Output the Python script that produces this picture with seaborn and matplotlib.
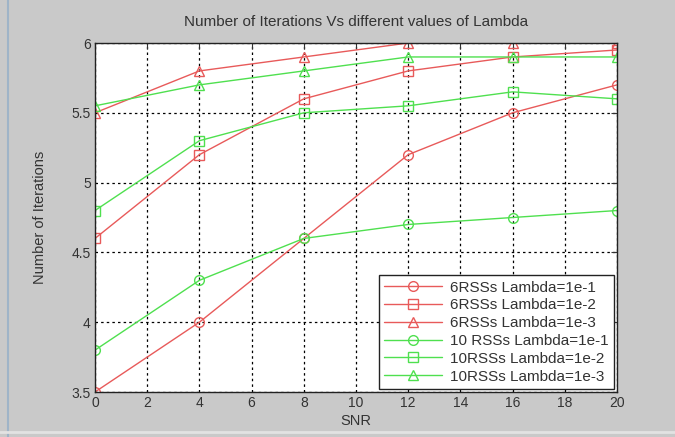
import matplotlib
matplotlib.use("Agg")
import matplotlib.pyplot as plt
import seaborn as sns
import pandas as pd
from matplotlib.ticker import FuncFormatter

snr = [0, 4, 8, 12, 16, 20]
labels = [
    "6RSSs Lambda=1e-1",
    "6RSSs Lambda=1e-2",
    "6RSSs Lambda=1e-3",
    "10 RSSs Lambda=1e-1",
    "10RSSs Lambda=1e-2",
    "10RSSs Lambda=1e-3",
]
r6_l1 = [3.5, 4.0, 4.6, 5.2, 5.5, 5.7]
r6_l2 = [4.6, 5.2, 5.6, 5.8, 5.9, 5.95]
r6_l3 = [5.5, 5.8, 5.9, 6.0, 6.0, 6.0]
r10_l1 = [3.8, 4.3, 4.6, 4.7, 4.75, 4.8]
r10_l2 = [4.8, 5.3, 5.5, 5.55, 5.65, 5.6]
r10_l3 = [5.55, 5.7, 5.8, 5.9, 5.9, 5.9]
series = [r6_l1, r6_l2, r6_l3, r10_l1, r10_l2, r10_l3]
xticks = [0, 2, 4, 6, 8, 10, 12, 14, 16, 18, 20]
yticks = [3.5, 4, 4.5, 5, 5.5, 6]

sns.set_style("white")
plt.rcParams['font.family'] = ['Liberation Sans', 'DejaVu Sans']

red = "#e85a5a"
green = "#4fe04f"
colors = [red, red, red, green, green, green]
markers = ["o", "s", "^", "o", "s", "^"]

fig = plt.figure(figsize=(6.75, 4.37), dpi=100, facecolor="#c9c9c9")
ax = fig.add_axes([95/675, 1-392/437, (617-95)/675, (392-43)/437])
ax.set_facecolor("white")

for lab, vals, c, m in zip(labels, series, colors, markers):
    df = pd.DataFrame({"SNR": snr, "val": vals})
    sns.lineplot(data=df, x="SNR", y="val", ax=ax, color=c, marker=m,
                 markersize=7, markerfacecolor="none", markeredgecolor=c,
                 markeredgewidth=1.0, linewidth=1.0, label=lab)

ax.set_xlim(0, 20)
ax.set_ylim(3.5, 6)
ax.set_xticks(xticks)
ax.set_yticks(yticks)
ax.yaxis.set_major_formatter(FuncFormatter(lambda v, p: f"{v:g}"))
ax.grid(True, color="black", linestyle=(0, (2, 2.5)), linewidth=0.9)
ax.tick_params(direction="in", length=4, top=True, right=True,
               labelsize=10, colors="#333333", pad=3)
for s in ax.spines.values():
    s.set_color("#222222")
    s.set_linewidth(1.0)

ax.set_title("Number of Iterations Vs different values of Lambda",
             fontsize=11, color="#333333", pad=12)
ax.set_xlabel("SNR", fontsize=10.5, color="#333333", labelpad=3)
ax.set_ylabel("Number of Iterations", fontsize=10.5, color="#333333", labelpad=18)

leg = ax.legend(loc="lower right", fontsize=11, frameon=True, fancybox=False,
                framealpha=1, edgecolor="#222222", borderaxespad=0.2,
                handlelength=3.8, labelspacing=0.25, borderpad=0.35,
                handletextpad=0.5)
leg.get_frame().set_linewidth(1.0)
for t in leg.get_texts():
    t.set_color("#333333")

# window border details
fig.add_artist(plt.Line2D([8/675, 8/675], [0, 1], color="#9fb4c8", lw=1.5))
fig.add_artist(plt.Line2D([0, 1], [5/437, 5/437], color="#e2e2e2", lw=2))

fig.savefig("out.png", dpi=100, facecolor=fig.get_facecolor())
